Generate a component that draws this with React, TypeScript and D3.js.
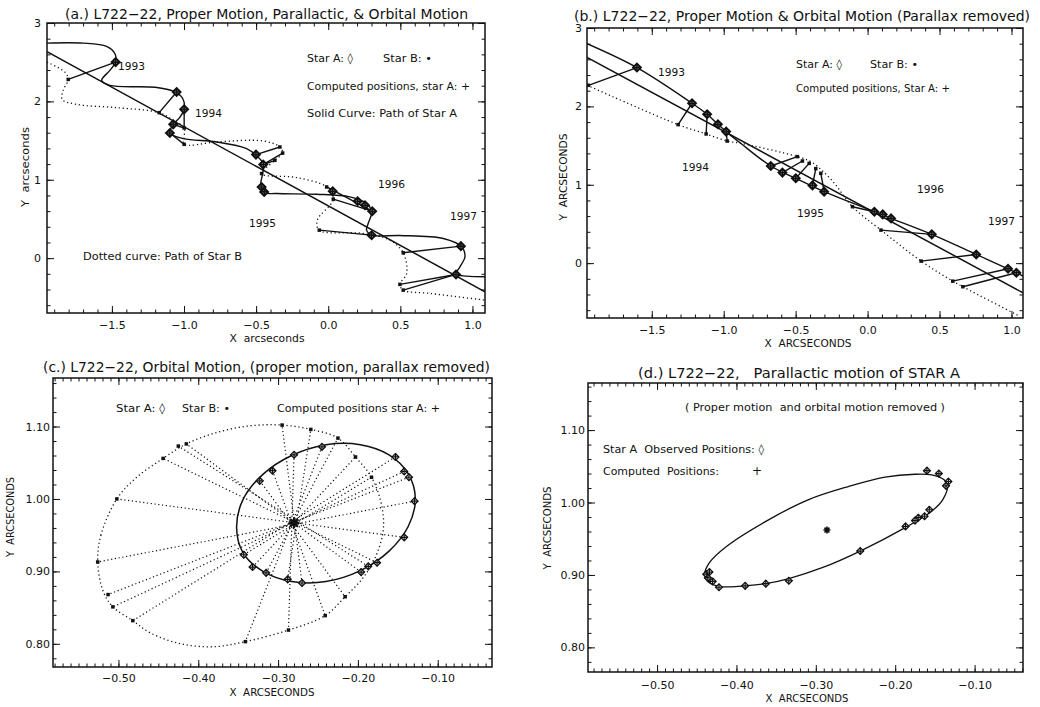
import React, { useEffect, useRef } from "react";
import * as d3 from "d3";

type Pt = [number, number];

// ---------- (a) proper motion + parallax + orbital motion ----------
const aCentreLine: Pt[] = [[-1.95, 2.635], [1.087, -0.43]];
const aPathA: Pt[] = [
  [-1.95, 2.743], [-1.699, 2.743], [-1.537, 2.701], [-1.479, 2.608], [-1.474, 2.501],
  [-1.514, 2.395], [-1.571, 2.268], [-1.514, 2.204], [-1.2, 2.18], [-1.07, 2.127],
  [-1.01, 2.04], [-0.999, 1.898], [-1.028, 1.8], [-1.075, 1.707], [-1.098, 1.596],
  [-1.006, 1.525], [-0.774, 1.482], [-0.566, 1.397], [-0.501, 1.312], [-0.451, 1.206],
  [-0.455, 1.079], [-0.467, 0.951], [-0.446, 0.837], [-0.358, 0.824], [-0.08, 0.815],
  [0.15, 0.781], [0.266, 0.697], [0.301, 0.59], [0.277, 0.442], [0.266, 0.357],
  [0.305, 0.293], [0.497, 0.289], [0.798, 0.251], [0.925, 0.144], [0.948, 0.017],
  [0.913, -0.111], [0.886, -0.204], [0.96, -0.229], [1.087, -0.238],
];
const aPathB: Pt[] = [
  [-1.95, 2.5], [-1.826, 2.373], [-1.803, 2.28], [-1.838, 2.14], [-1.845, 2.025],
  [-1.745, 1.962], [-1.467, 1.92], [-1.172, 1.856], [-1.075, 1.758], [-0.999, 1.66],
  [-0.999, 1.545], [-0.999, 1.452], [-0.774, 1.482], [-0.451, 1.495], [-0.335, 1.418],
  [-0.316, 1.341], [-0.37, 1.248], [-0.462, 1.079], [-0.219, 1.028], [-0.011, 0.908],
  [0.035, 0.752], [-0.076, 0.484], [-0.062, 0.357], [0.243, 0.315], [0.428, 0.229],
  [0.52, 0.068], [0.544, -0.195], [0.497, -0.335], [0.52, -0.408], [0.705, -0.45],
  [1.087, -0.535],
];
const aStarA: Pt[] = [
  [-1.474, 2.501], [-1.051, 2.119], [-0.999, 1.898], [-1.075, 1.707], [-1.098, 1.596],
  [-0.501, 1.321], [-0.451, 1.194], [-0.462, 0.908], [-0.444, 0.845], [0.031, 0.854],
  [0.204, 0.726], [0.255, 0.675], [0.305, 0.599], [0.301, 0.293], [0.92, 0.153],
  [0.886, -0.208],
];
const aStarB: Pt[] = [
  [-1.803, 2.28], [-1.172, 1.856], [-0.999, 1.66], [-0.999, 1.452], [-0.335, 1.418],
  [-0.316, 1.341], [-0.37, 1.248], [-0.462, 1.079], [-0.011, 0.908], [0.035, 0.752],
  [-0.062, 0.357], [0.52, 0.068], [0.497, -0.335], [0.52, -0.408],
];
const aLinks: [number, number][] = [
  [0, 0], [1, 1], [2, 2], [3, 2], [4, 3], [5, 4], [6, 5], [6, 6],
  [12, 8], [12, 9], [13, 10], [14, 11], [15, 12], [15, 13],
];

// ---------- (b) proper motion + orbital motion ----------
const bCentreLine: Pt[] = [[-1.95, 2.625], [1.08, -0.378]];
const bPathA: Pt[] = [
  [-1.95, 2.8], [-1.603, 2.495], [-1.22, 2.04], [-1.115, 1.899], [-1.04, 1.771],
  [-0.983, 1.678], [-0.882, 1.529], [-0.673, 1.239], [-0.499, 1.082], [-0.302, 0.912],
  [-0.139, 0.792], [0.047, 0.656], [0.163, 0.571], [0.446, 0.367], [0.755, 0.111],
  [1.034, -0.123], [1.08, -0.166],
];
const bPathB: Pt[] = [
  [-1.95, 2.27], [-1.317, 1.767], [-1.122, 1.648], [-0.976, 1.558], [-0.882, 1.529],
  [-0.488, 1.359], [-0.383, 1.282], [-0.244, 1.047], [-0.105, 0.72], [0.093, 0.421],
  [0.372, 0.026], [0.592, -0.23], [0.662, -0.301], [1.056, -0.677],
];
const bStarA: Pt[] = [
  [-1.603, 2.495], [-1.22, 2.04], [-1.115, 1.899], [-1.04, 1.771], [-0.983, 1.678],
  [-0.673, 1.239], [-0.592, 1.155], [-0.499, 1.082], [-0.383, 0.992], [-0.302, 0.912],
  [0.047, 0.656], [0.105, 0.622], [0.163, 0.571], [0.446, 0.367], [0.755, 0.111],
  [0.976, -0.072], [1.034, -0.123],
];
const bStarB: Pt[] = [
  [-1.94, 2.269], [-1.317, 1.767], [-1.122, 1.648], [-0.976, 1.558], [-0.488, 1.359],
  [-0.453, 1.303], [-0.406, 1.273], [-0.36, 1.206], [-0.325, 1.146], [-0.105, 0.72],
  [0.093, 0.421], [0.372, 0.026], [0.592, -0.23], [0.662, -0.301],
];
const bLinks: [number, number][] = [
  [0, 0], [1, 1], [2, 2], [4, 3], [5, 4], [6, 5], [7, 6], [8, 7], [9, 8],
  [10, 9], [13, 10], [14, 11], [15, 12], [16, 13],
];

// ---------- (c) orbital motion ----------
const cCentre: Pt = [-0.28, 0.967];
const cOrbitA: Pt[] = [
  [-0.128, 1.0], [-0.137, 1.035], [-0.161, 1.061], [-0.197, 1.075], [-0.24, 1.075],
  [-0.283, 1.06], [-0.319, 1.034], [-0.344, 0.999], [-0.352, 0.961], [-0.344, 0.926],
  [-0.319, 0.9], [-0.283, 0.886], [-0.24, 0.886], [-0.197, 0.901], [-0.161, 0.928],
  [-0.137, 0.962],
];
const cOrbitB: Pt[] = [
  [-0.526, 0.913], [-0.522, 0.95], [-0.502, 1.0], [-0.477, 1.03], [-0.444, 1.056],
  [-0.415, 1.076], [-0.376, 1.092], [-0.335, 1.101], [-0.295, 1.102], [-0.259, 1.096],
  [-0.225, 1.084], [-0.203, 1.058], [-0.183, 1.03], [-0.171, 0.995], [-0.168, 0.96],
  [-0.176, 0.925], [-0.193, 0.892], [-0.216, 0.865], [-0.241, 0.839], [-0.287, 0.819],
  [-0.341, 0.803], [-0.381, 0.796], [-0.422, 0.8], [-0.46, 0.815], [-0.482, 0.832],
  [-0.507, 0.851], [-0.519, 0.872],
];
const cStarA: Pt[] = [
  [-0.27, 0.884], [-0.288, 0.889], [-0.315, 0.898], [-0.332, 0.906], [-0.343, 0.923],
  [-0.323, 1.025], [-0.307, 1.039], [-0.28, 1.061], [-0.245, 1.072], [-0.153, 1.058],
  [-0.142, 1.038], [-0.136, 1.03], [-0.129, 0.997], [-0.142, 0.947], [-0.176, 0.912],
  [-0.187, 0.907], [-0.196, 0.899],
];
const cStarB: Pt[] = [
  [-0.295, 1.102], [-0.259, 1.096], [-0.225, 1.084], [-0.203, 1.058], [-0.183, 1.03],
  [-0.216, 0.865], [-0.241, 0.839], [-0.287, 0.819], [-0.341, 0.803], [-0.482, 0.832],
  [-0.507, 0.851], [-0.513, 0.868], [-0.526, 0.913], [-0.502, 1.0], [-0.444, 1.056],
  [-0.425, 1.073], [-0.415, 1.076],
];

// ---------- (d) parallactic motion ----------
const dCentre: Pt = [-0.286, 0.962];
const dEllipse: Pt[] = [
  [-0.44, 0.901], [-0.434, 0.917], [-0.413, 0.939], [-0.363, 0.974], [-0.309, 1.004],
  [-0.259, 1.022], [-0.213, 1.035], [-0.175, 1.039], [-0.154, 1.038], [-0.138, 1.031],
  [-0.134, 1.024], [-0.14, 1.004], [-0.154, 0.988], [-0.188, 0.965], [-0.244, 0.933],
  [-0.292, 0.91], [-0.334, 0.895], [-0.363, 0.888], [-0.39, 0.885], [-0.421, 0.884],
  [-0.436, 0.891],
];
const dStarA: Pt[] = [
  [-0.16, 1.044], [-0.145, 1.04], [-0.133, 1.029], [-0.136, 1.023], [-0.157, 0.99],
  [-0.163, 0.981], [-0.171, 0.979], [-0.175, 0.975], [-0.187, 0.967], [-0.244, 0.933],
  [-0.334, 0.892], [-0.363, 0.888], [-0.389, 0.885], [-0.422, 0.883], [-0.43, 0.891],
  [-0.436, 0.896], [-0.438, 0.901], [-0.434, 0.904],
];

// ---------- ticks / labels ----------
const xTicksAB = [-1.5, -1.0, -0.5, 0.0, 0.5, 1.0];
const yTicksAB = [0, 1, 2, 3];
const xTicksCD = [-0.5, -0.4, -0.3, -0.2, -0.1];
const yTicksCD = [0.8, 0.9, 1.0, 1.1];
const years = ["1993", "1994", "1995", "1996", "1997"];

const FONT = "'DejaVu Sans', 'Liberation Sans', sans-serif";

const panels = {
  a: { left: 47, top: 23, width: 438, height: 290, x: [-1.95, 1.087], y: [-0.7, 3.0], xPad: 8, yPad: 6 },
  b: { left: 587, top: 28, width: 436, height: 290, x: [-1.95, 1.08], y: [-0.7, 3.0], xPad: 8, yPad: 5 },
  c: { left: 53, top: 378, width: 439, height: 289, x: [-0.582, -0.032], y: [0.768, 1.167], xPad: 7, yPad: 3 },
  d: { left: 588, top: 383, width: 435, height: 289, x: [-0.587, -0.039], y: [0.766, 1.165], xPad: 9, yPad: 3 },
};

type Panel = typeof panels.a;

function frame(svg: any, p: Panel, xt: number[], yt: number[], xMinor: number[], yMinor: number[], xf: any, yf: any, id: string) {
  const x = d3.scaleLinear().domain(p.x).range([p.left, p.left + p.width]);
  const y = d3.scaleLinear().domain(p.y).range([p.top + p.height, p.top]);
  const g = svg.append("g");
  const sides = [
    { mk: () => d3.axisBottom(x), tr: `translate(0,${p.top + p.height})`, major: xt, minor: xMinor, fmt: xf, pad: p.xPad },
    { mk: () => d3.axisTop(x), tr: `translate(0,${p.top})`, major: xt, minor: xMinor, fmt: null, pad: 3 },
    { mk: () => d3.axisLeft(y), tr: `translate(${p.left},0)`, major: yt, minor: yMinor, fmt: yf, pad: p.yPad },
    { mk: () => d3.axisRight(y), tr: `translate(${p.left + p.width},0)`, major: yt, minor: yMinor, fmt: null, pad: 3 },
  ];
  sides.forEach(s => {
    g.append("g").attr("transform", s.tr)
      .call((s.mk() as any).tickValues(s.minor).tickSize(-3.5).tickFormat(() => ""))
      .call((a: any) => a.select(".domain").remove());
    g.append("g").attr("transform", s.tr)
      .call((s.mk() as any).tickValues(s.major).tickSize(-7).tickPadding(s.pad).tickFormat(s.fmt ? s.fmt : () => ""))
      .call((a: any) => a.select(".domain").remove());
  });
  g.selectAll(".tick line").attr("stroke", "#111").attr("stroke-width", 1);
  g.selectAll("text").attr("font-family", FONT).attr("font-size", 11).attr("fill", "#111");
  g.append("rect").attr("x", p.left).attr("y", p.top).attr("width", p.width).attr("height", p.height)
    .attr("fill", "none").attr("stroke", "#111").attr("stroke-width", 1.5);
  svg.append("clipPath").attr("id", id).append("rect")
    .attr("x", p.left).attr("y", p.top).attr("width", p.width).attr("height", p.height);
  const body = svg.append("g").attr("clip-path", `url(#${id})`);
  return { x, y, body };
}

function text(svg: any, t: string, x: number, y: number, size: number, len?: number, anchor = "start", rot = false) {
  const el = svg.append("text")
    .attr("font-family", FONT).attr("font-size", size).attr("fill", "#111")
    .attr("text-anchor", anchor).style("white-space", "pre")
    .attr("transform", rot ? `translate(${x},${y}) rotate(-90)` : `translate(${x},${y})`)
    .text(t);
  if (len) el.attr("textLength", len).attr("lengthAdjust", "spacingAndGlyphs");
  return el;
}

function diamond(g: any, x: any, y: any, pts: Pt[], r: number, fill: string, sw: number) {
  g.selectAll(null).data(pts).enter().append("path")
    .attr("d", (d: Pt) => {
      const cx = x(d[0]), cy = y(d[1]);
      return `M${cx},${cy - r}L${cx + r},${cy}L${cx},${cy + r}L${cx - r},${cy}Z`;
    })
    .attr("fill", fill).attr("stroke", "#111").attr("stroke-width", sw);
}
function plus(g: any, x: any, y: any, pts: Pt[], r: number, sw = 1.2) {
  g.selectAll(null).data(pts).enter().append("path")
    .attr("d", (d: Pt) => {
      const cx = x(d[0]), cy = y(d[1]);
      return `M${cx - r},${cy}H${cx + r}M${cx},${cy - r}V${cy + r}`;
    })
    .attr("stroke", "#111").attr("stroke-width", sw);
}
function square(g: any, x: any, y: any, pts: Pt[], s: number) {
  g.selectAll(null).data(pts).enter().append("rect")
    .attr("x", (d: Pt) => x(d[0]) - s / 2).attr("y", (d: Pt) => y(d[1]) - s / 2)
    .attr("width", s).attr("height", s).attr("fill", "#111");
}
function asterisk(g: any, x: any, y: any, c: Pt, r: number, sw: number) {
  const cx = x(c[0]), cy = y(c[1]), k = r * 0.707;
  g.append("path")
    .attr("d", `M${cx - r},${cy}H${cx + r}M${cx},${cy - r}V${cy + r}M${cx - k},${cy - k}L${cx + k},${cy + k}M${cx - k},${cy + k}L${cx + k},${cy - k}`)
    .attr("stroke", "#111").attr("stroke-width", sw);
}
function links(g: any, x: any, y: any, A: Pt[], B: Pt[], pairs: [number, number][], dotted: boolean) {
  g.selectAll(null).data(pairs).enter().append("line")
    .attr("x1", (d: [number, number]) => x(A[d[0]][0])).attr("y1", (d: [number, number]) => y(A[d[0]][1]))
    .attr("x2", (d: [number, number]) => x(B[d[1]][0])).attr("y2", (d: [number, number]) => y(B[d[1]][1]))
    .attr("stroke", "#111").attr("stroke-width", dotted ? 1.2 : 1.4)
    .attr("stroke-dasharray", dotted ? "1.2 2.6" : null);
}
function curve(g: any, x: any, y: any, pts: Pt[], dotted: boolean, closed = false, sw = 1.3) {
  const gen = d3.line<Pt>().x(d => x(d[0])).y(d => y(d[1]))
    .curve(closed ? d3.curveCatmullRomClosed.alpha(0.5) : d3.curveCatmullRom.alpha(0.5));
  g.append("path").attr("d", gen(pts)).attr("fill", "none").attr("stroke", "#111")
    .attr("stroke-width", sw).attr("stroke-dasharray", dotted ? "1.2 2.8" : null);
}

function draw(svg: any) {
  svg.append("rect").attr("width", 1040).attr("height", 707).attr("fill", "#fff");
  const f1 = d3.format(".1f"), fd = d3.format("d"), f2 = d3.format(".2f");
  const minorXAB = d3.range(-19, 11).map(v => v / 10);
  const minorYAB = d3.range(-3, 16).map(v => v / 5);
  const minorXCD = d3.range(-58, -3).map(v => v / 100);
  const minorYCD = d3.range(39, 59).map(v => v / 50);

  // (a)
  {
    const { x, y, body } = frame(svg, panels.a, xTicksAB, yTicksAB, minorXAB, minorYAB, f1, fd, "clipA");
    curve(body, x, y, aCentreLine, false, false, 1.5);
    curve(body, x, y, aPathA, false, false, 1.4);
    curve(body, x, y, aPathB, true);
    links(body, x, y, aStarA, aStarB, aLinks, false);
    square(body, x, y, aStarB, 3.5);
    diamond(body, x, y, aStarA, 3.8, "#fff", 2.1);
    plus(body, x, y, aStarA, 3.2, 1.6);
    text(svg, "(a.) L722\u221222, Proper Motion, Parallactic, & Orbital Motion", 65, 18.5, 14, 403);
    text(svg, "X  arcseconds", 267, 342, 11, 75, "middle");
    text(svg, "Y  arcseconds", 29, 167, 11, 80, "middle", true);
    text(svg, "Star A: \u25CA", 307, 62, 11, 46);
    text(svg, "Star B: \u2022", 383, 62, 11, 49);
    text(svg, "Computed positions, star A: +", 307, 90, 11, 163);
    text(svg, "Solid Curve: Path of Star A", 307, 117, 11, 150);
    text(svg, "Dotted curve: Path of Star B", 83, 260, 11, 159);
    const pos = [[118, 70], [195, 116.5], [249, 226.5], [378, 188], [450, 220]];
    years.forEach((t, i) => text(svg, t, pos[i][0], pos[i][1], 11, 27));
  }
  // (b)
  {
    const { x, y, body } = frame(svg, panels.b, xTicksAB, yTicksAB, minorXAB, minorYAB, f1, fd, "clipB");
    curve(body, x, y, bCentreLine, false, false, 1.5);
    curve(body, x, y, bPathA, false, false, 1.4);
    curve(body, x, y, bPathB, true);
    links(body, x, y, bStarA, bStarB, bLinks, false);
    square(body, x, y, bStarB, 3.5);
    diamond(body, x, y, bStarA, 3.8, "#fff", 2.1);
    plus(body, x, y, bStarA, 3.2, 1.6);
    text(svg, "(b.) L722\u221222, Proper Motion & Orbital Motion (Parallax removed)", 574, 21, 14, 456);
    text(svg, "X  ARCSECONDS", 808, 347, 10.5, 87, "middle");
    text(svg, "Y  ARCSECONDS", 567, 177, 11, 87, "middle", true);
    text(svg, "Star A: \u25CA", 796, 68, 11, 46);
    text(svg, "Star B: \u2022", 870, 68, 11, 48);
    text(svg, "Computed positions, Star A: +", 796, 92, 11, 154);
    const pos = [[658, 75.5], [682, 170.5], [797, 216.5], [917, 193], [988, 224.5]];
    years.forEach((t, i) => text(svg, t, pos[i][0], pos[i][1], 11, 27));
  }
  // (c)
  {
    const { x, y, body } = frame(svg, panels.c, xTicksCD, yTicksCD, minorXCD, minorYCD, f2, f2, "clipC");
    curve(body, x, y, cOrbitB, true, true);
    curve(body, x, y, cOrbitA, false, true, 1.5);
    links(body, x, y, cStarA, cStarB, cStarA.map((_, i) => [i, i] as [number, number]), true);
    square(body, x, y, cStarB, 3.5);
    diamond(body, x, y, cStarA, 3.4, "#fff", 1.3);
    plus(body, x, y, cStarA, 3.5);
    asterisk(body, x, y, cCentre, 5.5, 2.2);
    text(svg, "(c.) L722\u221222, Orbital Motion, (proper motion, parallax removed)", 43, 371.5, 14, 447);
    text(svg, "X  ARCSECONDS", 272, 695.5, 11, 85, "middle");
    text(svg, "Y  ARCSECONDS", 14, 517, 11, 80, "middle", true);
    text(svg, "Star A: \u25CA", 116, 412, 11, 49);
    text(svg, "Star B: \u2022", 182, 412, 11, 48);
    text(svg, "Computed positions star A: +", 277, 412, 11, 163);
  }
  // (d)
  {
    const { x, y, body } = frame(svg, panels.d, xTicksCD, yTicksCD, minorXCD, minorYCD, f2, f2, "clipD");
    curve(body, x, y, dEllipse, false, true, 1.3);
    diamond(body, x, y, dStarA, 3.4, "#fff", 1.3);
    plus(body, x, y, dStarA, 3.5);
    asterisk(body, x, y, dCentre, 3.5, 1.6);
    text(svg, "(d.) L722\u221222,   Parallactic motion of STAR A", 638, 378, 14, 322);
    text(svg, "X  ARCSECONDS", 807, 702, 11, 83, "middle");
    text(svg, "Y  ARCSECONDS", 551, 528, 11, 83, "middle", true);
    text(svg, "( Proper motion  and orbital motion removed )", 685, 410.5, 11, 260);
    text(svg, "Star A  Observed Positions: \u25CA", 603, 453, 11, 161);
    text(svg, "Computed  Positions:", 603, 474.5, 11, 116);
    text(svg, "+", 752, 474.5, 12);
  }
}

export default function App() {
  const ref = useRef<SVGSVGElement>(null);
  useEffect(() => {
    const svg = d3.select(ref.current);
    svg.selectAll("*").remove();
    draw(svg);
  }, []);
  return (
    <svg ref={ref} width={1040} height={707}
      style={{ position: "absolute", left: 0, top: 0, background: "#fff" }} />
  );
}
